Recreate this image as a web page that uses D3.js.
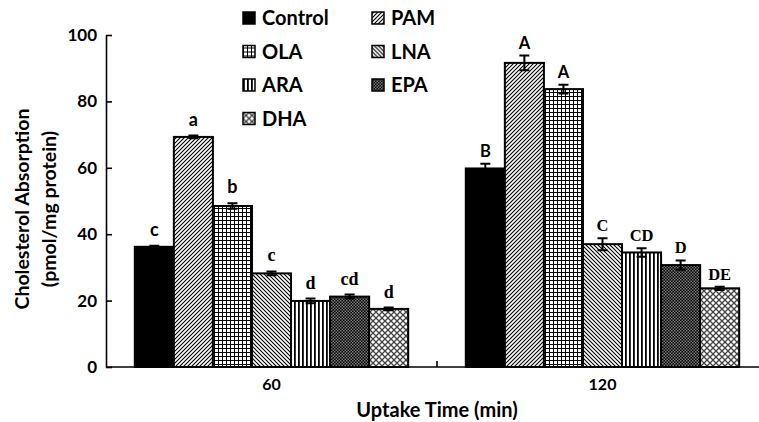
<!DOCTYPE html>
<html><head><meta charset="utf-8">
<script src="https://cdn.jsdelivr.net/npm/d3@7"></script>
<style>body{margin:0;background:#fff}svg{display:block}</style>
</head><body>
<svg id="c" width="759" height="422"></svg>
<script>
const groups = ["60", "120"];
const series = ["Control", "PAM", "OLA", "LNA", "ARA", "EPA", "DHA"];
const values60 = [36.2, 69.3, 48.5, 28.2, 19.9, 21.2, 17.5];
const values120 = [59.8, 91.6, 83.7, 37.0, 34.5, 30.7, 23.7];
const errors60 = [0.3, 0.4, 0.8, 0.6, 0.7, 0.6, 0.4];
const errors120 = [1.4, 2.2, 1.3, 1.8, 1.3, 1.4, 0.5];
const letters60 = ["c", "a", "b", "c", "d", "cd", "d"];
const letters120 = ["B", "A", "A", "C", "CD", "D", "DE"];
const yTicks = [0, 20, 40, 60, 80, 100];

const svg = d3.select("#c");
const defs = svg.append("defs");
function pat(id, w, h, draw, bg) {
  const p = defs.append("pattern").attr("id", id).attr("patternUnits", "userSpaceOnUse")
    .attr("width", w).attr("height", h);
  p.append("rect").attr("width", w).attr("height", h).attr("fill", bg || "#fff");
  draw(p);
}
pat("pam", 4, 4, p => {
  p.append("path").attr("d", "M-1,1 l2,-2 M0,4 l4,-4 M3,5 l2,-2").attr("stroke", "#000").attr("stroke-width", 1.1);
});
pat("ola", 4, 4, p => {
  p.append("path").attr("d", "M0,0.5 H4 M0.5,0 V4").attr("stroke", "#000").attr("stroke-width", 1);
});
pat("lna", 4, 4, p => {
  p.append("path").attr("d", "M-1,3 l2,2 M0,0 l4,4 M3,-1 l2,2").attr("stroke", "#000").attr("stroke-width", 1.1);
});
pat("ara", 4, 4, p => {
  p.append("rect").attr("x", 0).attr("y", 0).attr("width", 1.8).attr("height", 4).attr("fill", "#000");
});
pat("epa", 3, 3, p => {
  p.append("rect").attr("x", 0).attr("y", 0).attr("width", 1.5).attr("height", 1.5).attr("fill", "#777");
  p.append("rect").attr("x", 1.5).attr("y", 1.5).attr("width", 1.5).attr("height", 1.5).attr("fill", "#777");
}, "#000");
pat("dha", 6, 6, p => {
  p.append("path").attr("d", "M0,0 L6,6 M6,0 L0,6").attr("stroke", "#444").attr("stroke-width", 1.3);
});
const fills = ["#000", "url(#pam)", "url(#ola)", "url(#lna)", "url(#ara)", "url(#epa)", "url(#dha)"];

const y = d3.scaleLinear().domain([0, 100]).range([367, 35]);
const x0 = d3.scaleBand().domain(groups).range([106, 768]).padding(0);
const inset = x0.bandwidth() * 0.087;
const x1 = d3.scaleBand().domain(series).range([inset, x0.bandwidth() - inset]).padding(0);

const data = groups.map((g, gi) => ({
  g,
  vals: series.map((s, i) => ({
    s, i, g,
    v: gi === 0 ? values60[i] : values120[i],
    e: gi === 0 ? errors60[i] : errors120[i],
    l: gi === 0 ? letters60[i] : letters120[i]
  }))
}));

const gg = svg.selectAll("g.grp").data(data).enter().append("g")
  .attr("transform", d => `translate(${x0(d.g)},0)`);
gg.selectAll("rect").data(d => d.vals).enter().append("rect")
  .attr("x", d => x1(d.s)).attr("width", x1.bandwidth())
  .attr("y", d => y(d.v)).attr("height", d => y(0) - y(d.v))
  .attr("fill", d => fills[d.i]).attr("stroke", "#000").attr("stroke-width", 2);
// error bars
gg.selectAll("path.err").data(d => d.vals).enter().append("path")
  .attr("d", d => {
    const cx = x1(d.s) + x1.bandwidth() / 2, t = y(d.v + d.e), b = y(d.v - d.e);
    return `M${cx - 5},${t} H${cx + 5} M${cx},${t} V${b} M${cx - 5},${b} H${cx + 5}`;
  }).attr("stroke", "#000").attr("stroke-width", 2).attr("fill", "none");
// letters
gg.selectAll("text.lt").data(d => d.vals).enter().append("text")
  .attr("x", d => x1(d.s) + x1.bandwidth() / 2)
  .attr("y", d => y(d.v + d.e) - (d.g === "60" ? 10 : 7))
  .attr("text-anchor", "middle")
  .attr("font-weight", "bold")
  .attr("font-size", d => d.g === "60" ? 18 : 16.5)
  .attr("font-family", d => d.i <= 2 ? "Lato, Arial, sans-serif" : "Liberation Serif, Times New Roman, serif")
  .text(d => d.l);

// axes
const yAxis = d3.axisLeft(y).tickValues(yTicks).tickSizeInner(-6).tickSizeOuter(0).tickPadding(9);
const ya = svg.append("g").attr("transform", "translate(106,0)").call(yAxis);
ya.select(".domain").attr("stroke-width", 1.6);
ya.selectAll(".tick line").attr("stroke-width", 1.6);
ya.selectAll("text").attr("font-family", "Lato, Open Sans, sans-serif").attr("font-weight", "bold").attr("font-size", 17).attr("fill", "#000");

svg.append("line").attr("x1", 106).attr("x2", 759).attr("y1", 367).attr("y2", 367).attr("stroke", "#000").attr("stroke-width", 1.6);
svg.append("line").attr("x1", x0("120")).attr("x2", x0("120")).attr("y1", 367).attr("y2", 361).attr("stroke", "#000").attr("stroke-width", 1.6);
svg.selectAll("text.xl").data(groups).enter().append("text")
  .attr("x", d => x0(d) + x0.bandwidth() / 2)
  .attr("y", 390).attr("text-anchor", "middle")
  .attr("font-family", "Lato, Open Sans, sans-serif").attr("font-weight", "bold").attr("font-size", 16)
  .text(d => d);

svg.append("text").attr("x", 437).attr("y", 417).attr("text-anchor", "middle")
  .attr("font-family", "Lato, Open Sans, sans-serif").attr("font-weight", "bold").attr("font-size", 20)
  .text("Uptake Time (min)");
const yl = svg.append("text").attr("transform", "translate(0,209) rotate(-90)")
  .attr("text-anchor", "middle")
  .attr("font-family", "Lato, Open Sans, sans-serif").attr("font-weight", "bold").attr("font-size", 19.5);
yl.append("tspan").attr("x", 0).attr("y", 29).text("Cholesterol Absorption");
yl.append("tspan").attr("x", 0).attr("y", 56).text("(pmol/mg protein)");

// legend
const legCols = [243, 372];
const leg = svg.selectAll("g.leg").data(series).enter().append("g")
  .attr("transform", (d, i) => `translate(${legCols[i % 2]},${18 + Math.floor(i / 2) * 33.5})`);
leg.append("rect").attr("x", 0).attr("y", -6).attr("width", 12).attr("height", 12)
  .attr("fill", (d, i) => fills[i]).attr("stroke", "#000").attr("stroke-width", 1.5);
leg.append("text").attr("x", 19).attr("y", 7)
  .attr("font-family", "Lato, Open Sans, sans-serif").attr("font-weight", "bold").attr("font-size", 20)
  .text(d => d);
</script>
</body></html>
